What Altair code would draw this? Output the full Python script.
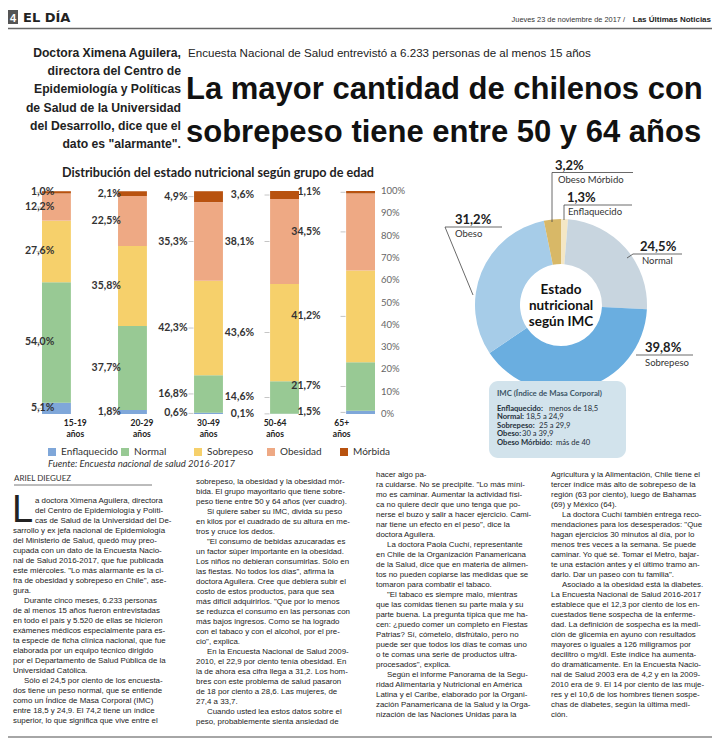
import altair as alt
import pandas as pd

# ------------------------------------------------------------------ data
grupos = ["15-19", "20-29", "30-49", "50-64", "65+"]
estados = ["Enflaquecido", "Normal", "Sobrepeso", "Obesidad", "Mórbida"]
enflaquecido = [5.1, 1.8, 0.6, 0.1, 1.5]
normal = [54.0, 37.7, 16.8, 14.6, 21.7]
sobrepeso = [27.6, 35.8, 42.3, 43.6, 41.2]
obesidad = [12.2, 22.5, 35.3, 38.1, 34.5]
morbida = [1.0, 2.1, 4.9, 3.6, 1.1]
colores_barras = ["#7fa7d9", "#98c994", "#f6d06b", "#eea984", "#b8520f"]
ticks_eje = [0, 10, 20, 30, 40, 50, 60, 70, 80, 90, 100]

imc_estados = ["Enflaquecido", "Normal", "Sobrepeso", "Obeso", "Obeso Mórbido"]
imc_pct = [1.3, 24.5, 39.8, 31.2, 3.2]
imc_colores = ["#f4e7c5", "#c8d5df", "#6aaee0", "#a6cce8", "#d8b867"]
imc_rangos = ["menos de 18,5", "18,5 a 24,9", "25 a 29,9", "30 a 39,9", "más de 40"]

col1 = [
    "a doctora Ximena Aguilera, directora",
    "del Centro de Epidemiología y Políti-",
    "cas de Salud de la Universidad del De-",
    "sarrollo y ex jefa nacional de Epidemiología",
    "del Ministerio de Salud, quedó muy preo-",
    "cupada con un dato de la Encuesta Nacio-",
    "nal de Salud 2016-2017, que fue publicada",
    "este miércoles. \"Lo más alarmante es la ci-",
    "fra de obesidad y sobrepeso en Chile\", ase-",
    "gura.",
    "Durante cinco meses, 6.233 personas",
    "de al menos 15 años fueron entrevistadas",
    "en todo el país y 5.520 de ellas se hicieron",
    "exámenes médicos especialmente para es-",
    "ta especie de ficha clínica nacional, que fue",
    "elaborada por un equipo técnico dirigido",
    "por el Departamento de Salud Pública de la",
    "Universidad Católica.",
    "Sólo el 24,5 por ciento de los encuesta-",
    "dos tiene un peso normal, que se entiende",
    "como un Índice de Masa Corporal (IMC)",
    "entre 18,5 y 24,9. El 74,2 tiene un índice",
    "superior, lo que significa que vive entre el",
]
col1_sangria = [10, 18]
col2 = [
    "sobrepeso, la obesidad y la obesidad mór-",
    "bida. El grupo mayoritario que tiene sobre-",
    "peso tiene entre 50 y 64 años (ver cuadro).",
    "Si quiere saber su IMC, divida su peso",
    "en kilos por el cuadrado de su altura en me-",
    "tros y cruce los dedos.",
    "\"El consumo de bebidas azucaradas es",
    "un factor súper importante en la obesidad.",
    "Los niños no debieran consumirlas. Sólo en",
    "las fiestas. No todos los días\", afirma la",
    "doctora Aguilera. Cree que debiera subir el",
    "costo de estos productos, para que sea",
    "más difícil adquirirlos. \"Que por lo menos",
    "se reduzca el consumo en las personas con",
    "más bajos ingresos. Como se ha logrado",
    "con el tabaco y con el alcohol, por el pre-",
    "cio\", explica.",
    "En la Encuesta Nacional de Salud 2009-",
    "2010, el 22,9 por ciento tenía obesidad. En",
    "la de ahora esa cifra llega a 31,2. Los hom-",
    "bres con este problema de salud pasaron",
    "de 18 por ciento a 28,6. Las mujeres, de",
    "27,4 a 33,7.",
    "Cuando usted lea estos datos sobre el",
    "peso, probablemente sienta ansiedad de",
]
col2_sangria = [3, 6, 17, 23]
col3 = [
    "hacer algo pa-",
    "ra cuidarse. No se precipite. \"Lo más míni-",
    "mo es caminar. Aumentar la actividad físi-",
    "ca no quiere decir que uno tenga que po-",
    "nerse el buzo y salir a hacer ejercicio. Cami-",
    "nar tiene un efecto en el peso\", dice la",
    "doctora Aguilera.",
    "La doctora Paola Cuchí, representante",
    "en Chile de la Organización Panamericana",
    "de la Salud, dice que en materia de alimen-",
    "tos no pueden copiarse las medidas que se",
    "tomaron para combatir el tabaco.",
    "\"El tabaco es siempre malo, mientras",
    "que las comidas tienen su parte mala y su",
    "parte buena. La pregunta típica que me ha-",
    "cen: ¿puedo comer un completo en Fiestas",
    "Patrias? Sí, cómetelo, disfrútalo, pero no",
    "puede ser que todos los días te comas uno",
    "o te comas una serie de productos ultra-",
    "procesados\", explica.",
    "Según el informe Panorama de la Segu-",
    "ridad Alimentaria y Nutricional en América",
    "Latina y el Caribe, elaborado por la Organi-",
    "zación Panamericana de la Salud y la Orga-",
    "nización de las Naciones Unidas para la",
]
col3_sangria = [7, 12, 20]
col4 = [
    "Agricultura y la Alimentación, Chile tiene el",
    "tercer índice más alto de sobrepeso de la",
    "región (63 por ciento), luego de Bahamas",
    "(69) y México (64).",
    "La doctora Cuchí también entrega reco-",
    "mendaciones para los desesperados: \"Que",
    "hagan ejercicios 30 minutos al día, por lo",
    "menos tres veces a la semana. Se puede",
    "caminar. Yo qué sé. Tomar el Metro, bajar-",
    "te una estación antes y el último tramo an-",
    "darlo. Dar un paseo con tu familia\".",
    "Asociado a la obesidad está la diabetes.",
    "La Encuesta Nacional de Salud 2016-2017",
    "establece que el 12,3 por ciento de los en-",
    "cuestados tiene sospecha de la enferme-",
    "dad. La definición de sospecha es la medi-",
    "ción de glicemia en ayuno con resultados",
    "mayores o iguales a 126 miligramos por",
    "decilitro o mg/dl. Este índice ha aumenta-",
    "do dramáticamente. En la Encuesta Nacio-",
    "nal de Salud 2003 era de 4,2 y en la 2009-",
    "2010 era de 9. El 14 por ciento de las muje-",
    "res y el 10,6 de los hombres tienen sospe-",
    "chas de diabetes, según la última medi-",
    "ción.",
]
col4_sangria = [4, 11]

# ------------------------------------------------------------------ helpers
NARROW = "Liberation Sans"
SANS = "Lato"
one = pd.DataFrame({"k": [0]})


def X(v):
    return v - 8


def Y(v):
    return v - 8


def texto(t, x, y, **kw):
    kw.setdefault("align", "left")
    kw.setdefault("baseline", "alphabetic")
    kw.setdefault("color", "#222")
    return alt.Chart(one).mark_text(text=t, **kw).encode(
        x=alt.value(X(x)), y=alt.value(Y(y)))


def linea(x1, y1, x2, y2, color="#444", ancho=0.8):
    return alt.Chart(one).mark_rule(color=color, strokeWidth=ancho).encode(
        x=alt.value(X(x1)), y=alt.value(Y(y1)), x2=alt.value(X(x2)), y2=alt.value(Y(y2)))


def caja(x1, y1, x2, y2, color, **kw):
    return alt.Chart(one).mark_rect(color=color, **kw).encode(
        x=alt.value(X(x1)), y=alt.value(Y(y1)), x2=alt.value(X(x2)), y2=alt.value(Y(y2)))


def fmt(v):
    return f"{v:.1f}".replace(".", ",") + "%"


L = []

# ------------------------------------------------------------------ header
L.append(caja(8, 10, 18, 24, "#555"))
L.append(texto("4", 13, 21.5, align="center", color="white", fontSize=11, fontWeight="bold", font=NARROW))
L.append(texto("EL DÍA", 23, 22, fontSize=13, fontWeight="bold", font="DejaVu Sans", color="#222"))
L.append(texto("Las Últimas Noticias", 711, 22, align="right", fontSize=8, fontWeight="bold", font=NARROW))
L.append(texto("Jueves 23 de noviembre de 2017 /", 625, 22, align="right", fontSize=7.4, font=NARROW, color="#333"))
L.append(linea(8, 28.5, 712, 28.5, "#666", 1.5))

# deck / headline
L.append(texto(["Doctora Ximena Aguilera,", "directora del Centro de", "Epidemiología y Políticas",
                "de Salud de la Universidad", "del Desarrollo, dice que el", "dato es \"alarmante\"."],
               181, 57, align="right", lineHeight=18.2, fontSize=12.2, fontWeight="bold", font=NARROW))
L.append(texto("Encuesta Nacional de Salud entrevistó a 6.233 personas de al menos 15 años",
               188, 57, fontSize=11.6, font=NARROW))
L.append(texto(["La mayor cantidad de chilenos con", "sobrepeso tiene entre 50 y 64 años"],
               186, 99, lineHeight=43, fontSize=31, fontWeight="bold", font=NARROW, color="#111"))

# ------------------------------------------------------------------ stacked bars
rows = []
series = [enflaquecido, normal, sobrepeso, obesidad, morbida]
for i, g in enumerate(grupos):
    for j, e in enumerate(estados):
        v = series[j][i]
        rows.append({"grupo": g, "estado": e, "orden": j, "valor": v, "etiqueta": fmt(v)})
df_bars = pd.DataFrame(rows)

xs = alt.X("grupo:N", scale=alt.Scale(domain=grupos, range=[X(42), X(375)],
                                      paddingInner=0.62, paddingOuter=0), axis=None)
yscale = alt.Scale(domain=[0, 100], range=[Y(414), Y(191)])

base = alt.Chart(df_bars).transform_stack(
    stack="valor", groupby=["grupo"], as_=["v0", "v1"],
    sort=[alt.SortField("orden", order="ascending")]
).transform_calculate(mid="(datum.v0 + datum.v1) / 2")

bars = base.mark_bar().encode(
    x=xs,
    y=alt.Y("v0:Q", scale=yscale, axis=None),
    y2="v1:Q",
    color=alt.Color("estado:N", scale=alt.Scale(domain=estados, range=colores_barras),
                    legend=alt.Legend(orient="none", legendX=X(47), legendY=Y(447),
                                      direction="horizontal", columns=5, title=None,
                                      symbolType="square", symbolSize=64, symbolStrokeWidth=0,
                                      labelFont=SANS, labelFontSize=10, labelColor="#333",
                                      labelOffset=4, columnPadding=2, gridAlign="all", padding=0)),
)
ticks = base.mark_tick(xOffset=-17.5, size=5, thickness=0.8, color="#999", orient="horizontal").encode(
    x=xs, y=alt.Y("mid:Q", scale=yscale, axis=None))
labels = base.mark_text(align="right", baseline="middle", dx=-21, font=SANS, fontWeight="bold",
                        fontSize=10.5, color="#333").encode(
    x=xs, y=alt.Y("mid:Q", scale=yscale, axis=None), text="etiqueta:N")
L += [bars, ticks, labels]

df_cat = pd.DataFrame({"grupo": grupos, "cat": [g + "\naños" for g in grupos]})
L.append(alt.Chart(df_cat).mark_text(lineBreak="\n", baseline="top", font=SANS, fontWeight="bold",
                                     fontSize=8.5, lineHeight=11, color="#222").encode(
    x=xs, y=alt.value(Y(419)), text="cat:N"))

df_ax = pd.DataFrame({"v": ticks_eje, "t": [f"{t}%" for t in ticks_eje]})
L.append(alt.Chart(df_ax).mark_text(align="left", baseline="middle", font=SANS, fontSize=9.5,
                                    color="#666").encode(
    x=alt.value(X(381)), y=alt.Y("v:Q", scale=yscale, axis=None), text="t:N"))

L.append(texto("Distribución del estado nutricional según grupo de edad", 218, 177, align="center",
               fontSize=12.6, fontWeight="bold", font=SANS))
L.append(texto("Fuente: Encuesta nacional de salud 2016-2017", 48, 467, fontSize=9.5,
               fontStyle="italic", font=SANS, color="#333"))

# ------------------------------------------------------------------ donut
df_d = pd.DataFrame({"estado": imc_estados, "pct": imc_pct, "orden": list(range(5))})
L.append(alt.Chart(df_d).mark_arc(outerRadius=86, innerRadius=41).encode(
    theta=alt.Theta("pct:Q", stack=True),
    order=alt.Order("orden:Q"),
    color=alt.Color("estado:N", scale=alt.Scale(domain=imc_estados, range=imc_colores), legend=None),
    x=alt.value(X(561)), y=alt.value(Y(305)),
))
L.append(texto(["Estado", "nutricional", "según IMC"], 561, 294, align="center", lineHeight=16,
               fontSize=13.5, fontWeight="bold", font=SANS, color="#111"))

PCT = dict(fontSize=13, fontWeight="bold", font=SANS, color="#222")
NOM = dict(fontSize=9.5, font=SANS, color="#333")
# Obeso Mórbido
L.append(texto(fmt(imc_pct[4]), 555, 170, **PCT))
L.append(linea(552, 172.5, 633, 172.5))
L.append(linea(552, 172.5, 552, 222))
L.append(texto(imc_estados[4], 558, 183, **NOM))
# Enflaquecido
L.append(texto(fmt(imc_pct[0]), 567, 202, **PCT))
L.append(linea(564, 205, 632, 205))
L.append(linea(564, 205, 564, 220))
L.append(texto(imc_estados[0], 568, 215, **NOM))
# Normal
L.append(texto(fmt(imc_pct[1]), 640, 251, **PCT))
L.append(linea(633, 254, 682, 254))
L.append(linea(627, 258, 633, 254))
L.append(texto(imc_estados[1], 642, 264, **NOM))
# Sobrepeso
L.append(texto(fmt(imc_pct[2]), 645, 352, **PCT))
L.append(linea(636, 355, 693, 355))
L.append(texto(imc_estados[2], 645, 366, **NOM))
# Obeso
L.append(texto(fmt(imc_pct[3]), 455, 224, **PCT))
L.append(linea(445, 227, 502, 227))
L.append(linea(445, 227, 473, 295))
L.append(texto(imc_estados[3], 455, 237, **NOM))

# IMC box
L.append(caja(489, 381, 626, 458, "#d2e3ec", cornerRadius=9))
L.append(texto("IMC (Índice de Masa Corporal)", 497, 396, fontSize=7.8, fontWeight="bold",
               font=SANS, color="#3b5566"))
anchos = [50, 27, 40, 23, 57]
for k in range(5):
    yb = 410.5 + 8.6 * k
    L.append(texto(imc_estados[k] + ":", 497, yb, fontSize=7.6, fontWeight="bold", font=SANS, color="#1f2f3a"))
    L.append(texto(imc_rangos[k], 497 + anchos[k] + 2, yb, fontSize=7.6, font=SANS, color="#1f2f3a"))

# ------------------------------------------------------------------ body text
L.append(texto("ARIEL DIEGUEZ", 14, 481, fontSize=8, font=SANS, color="#333"))
L.append(linea(14, 485, 152, 485, "#555", 0.8))
L.append(texto("L", 12, 522, fontSize=38, font=NARROW, color="#222"))

BODY = dict(font=NARROW, fontSize=7.9, color="#222", align="left", baseline="alphabetic")


def columna(lineas, sangria, x0, y0, desde=0):
    df = pd.DataFrame({
        "linea": list(range(desde, desde + len(lineas))),
        "texto": lineas,
        "sangria": [1 if (i + desde) in sangria else 0 for i in range(len(lineas))],
    })
    return alt.Chart(df).mark_text(**BODY).encode(
        x=alt.X("sangria:Q", scale=alt.Scale(domain=[0, 1], range=[X(x0), X(x0 + 11)]), axis=None),
        y=alt.Y("linea:Q", scale=alt.Scale(domain=[0, 24], range=[Y(y0), Y(y0 + 240)]), axis=None),
        text="texto:N",
    )


L.append(columna(col1[:3], [], 35, 503))
L.append(columna(col1[3:], col1_sangria, 13, 503, desde=3))
L.append(columna(col2, col2_sangria, 196, 484))
L.append(columna(col3, col3_sangria, 376, 477))
L.append(columna(col4, col4_sangria, 551, 477))

L.append(linea(8, 737, 712, 737, "#888", 1.5))

chart = alt.layer(*L).resolve_scale(
    x="independent", y="independent", color="independent", theta="independent"
).properties(
    width=704, height=730, autosize=alt.AutoSizeParams(type="none"), padding=0,
    background="white",
).configure_view(stroke=None)

chart.save("out.html", embed_options={"renderer": "svg", "actions": False})
